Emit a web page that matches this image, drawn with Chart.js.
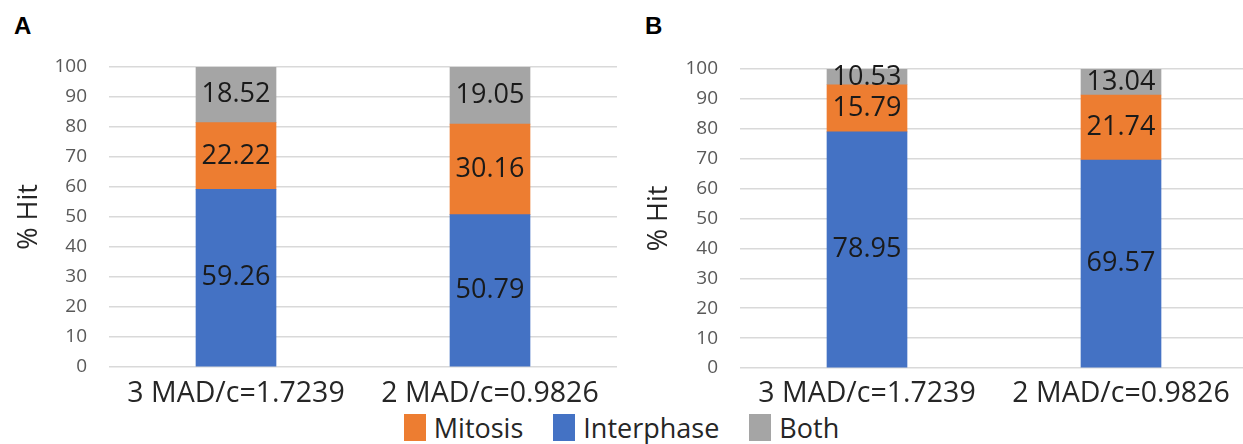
<!DOCTYPE html>
<html>
<head>
<meta charset="utf-8">
<script src="https://cdn.jsdelivr.net/npm/chart.js@4.4.1/dist/chart.umd.min.js"></script>
<style>
  html, body { margin: 0; padding: 0; background: #fff; overflow: hidden; width: 1243px; height: 444px; }
  .panel { position: absolute; top: 0; }
  .tag { position: absolute; font: bold 24px "Liberation Sans", Arial, sans-serif; line-height: 24px; color: #000; }
  #legend { position: absolute; left: 0; width: 1243px; top: 410px; height: 34px; display: flex;
            justify-content: center; align-items: center; font: 27px "Open Sans", sans-serif; color: #262626; }
  #legend .box { display: inline-block; width: 22px; height: 27px; }
  #legend .txt { margin-left: 8px; white-space: nowrap; }
  #legend .item { display: flex; align-items: center; margin-right: 30px; }
  #legend .item:last-child { margin-right: 0; }
</style>
</head>
<body>
<div class="tag" style="left:14px; top:14px;">A</div>
<div class="tag" style="left:645px; top:14px;">B</div>
<canvas id="chartA" class="panel" style="left:0px;" width="617" height="405"></canvas>
<canvas id="chartB" class="panel" style="left:631px;" width="617" height="405"></canvas>
<div id="legend"></div>

<script>
// Categories (thresholds)
const categories = ['3 MAD/c=1.7239', '2 MAD/c=0.9826'];

// Series, listed bottom-to-top in each stack
const seriesNames  = ['Interphase', 'Mitosis', 'Both'];
const seriesColors = ['#4472C4', '#ED7D31', '#A5A5A5'];
const legendOrder  = ['Mitosis', 'Interphase', 'Both'];

// Panel A values (% hit)
const interphaseA = [59.26, 50.79];
const mitosisA    = [22.22, 30.16];
const bothA       = [18.52, 19.05];

// Panel B values (% hit)
const interphaseB = [78.95, 69.57];
const mitosisB    = [15.79, 21.74];
const bothB       = [10.53, 13.04];

// Value axis
const yMin = 0, yMax = 100, yStep = 10;
const yTitle = '% Hit';

const FONT = '"Open Sans", sans-serif';

// Writes each segment's value in the middle of its visible part
const segmentLabels = {
  id: 'segmentLabels',
  afterDatasetsDraw(chart) {
    const { ctx, chartArea } = chart;
    ctx.save();
    ctx.font = '27px ' + FONT;
    ctx.fillStyle = '#1a1a1a';
    ctx.textAlign = 'center';
    ctx.textBaseline = 'middle';
    chart.data.datasets.forEach((ds, i) => {
      const meta = chart.getDatasetMeta(i);
      meta.data.forEach((bar, j) => {
        const top = Math.max(Math.min(bar.y, bar.base), chartArea.top);
        const bottom = Math.min(Math.max(bar.y, bar.base), chartArea.bottom);
        ctx.fillText(ds.data[j].toFixed(2), bar.x, (top + bottom) / 2);
      });
    });
    ctx.restore();
  }
};

function makeChart(id, series, layout) {
  return new Chart(document.getElementById(id), {
    type: 'bar',
    data: {
      labels: categories,
      datasets: series.map((vals, k) => ({
        label: seriesNames[k],
        data: vals,
        backgroundColor: seriesColors[k],
        borderWidth: 0,
        barThickness: 80,
        clip: 0
      }))
    },
    options: {
      responsive: false,
      animation: false,
      events: [],
      layout: { padding: { top: layout.padTop, left: 0, right: 0, bottom: 0 } },
      plugins: { legend: { display: false }, tooltip: { enabled: false } },
      scales: {
        x: {
          stacked: true,
          grid: { display: false },
          border: { display: false },
          ticks: { font: { family: FONT, size: 28.5 }, color: '#262626', padding: layout.xPad,
                   maxRotation: 0, autoSkip: false },
          afterFit(s) { s.height = layout.xHeight; }
        },
        y: {
          stacked: true,
          min: yMin, max: yMax,
          grid: { color: '#d9d9d9', lineWidth: 1.5, drawTicks: false },
          border: { display: false },
          ticks: { stepSize: yStep, font: { family: FONT, size: 19 }, color: '#595959', padding: 22 },
          title: { display: true, text: yTitle, font: { family: FONT, size: 27 }, color: '#262626',
                   padding: { top: layout.titlePad, bottom: 0 } },
          afterFit(s) { s.width = 109; }
        }
      }
    },
    plugins: [segmentLabels]
  });
}

makeChart('chartA', [interphaseA, mitosisA, bothA], { padTop: 67, xHeight: 38, xPad: 1.5, titlePad: 13 });
makeChart('chartB', [interphaseB, mitosisB, bothB], { padTop: 69, xHeight: 37, xPad: 0.5, titlePad: 12 });

// Shared legend built from the series definitions
const legend = document.getElementById('legend');
legendOrder.forEach(name => {
  const k = seriesNames.indexOf(name);
  const item = document.createElement('span');
  item.className = 'item';
  const box = document.createElement('span');
  box.className = 'box';
  box.style.background = seriesColors[k];
  const txt = document.createElement('span');
  txt.className = 'txt';
  txt.textContent = name;
  item.appendChild(box);
  item.appendChild(txt);
  legend.appendChild(item);
});
</script>
</body>
</html>
